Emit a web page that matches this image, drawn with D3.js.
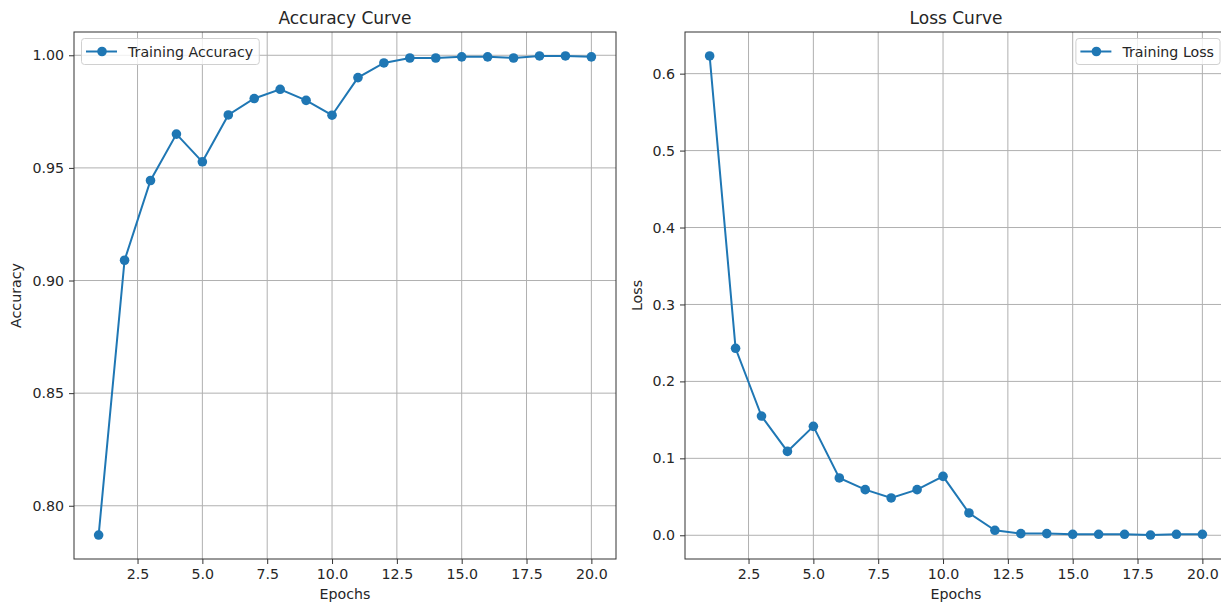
<!DOCTYPE html>
<html>
<head>
<meta charset="utf-8">
<script src="https://cdn.jsdelivr.net/npm/d3@7"></script>
<style>
  body { margin: 0; background: #fff; }
  svg text { font-family: "DejaVu Sans", sans-serif; fill: #262626; }
</style>
</head>
<body>
<div id="chart"></div>
<script>
// Training history
const epochs = d3.range(1, 21)
const accuracy = [0.787, 0.909, 0.9444, 0.965, 0.9527, 0.9735, 0.9808, 0.9849, 0.980, 0.9734,
  0.9901, 0.9966, 0.9988, 0.9988, 0.9993, 0.9993, 0.9988, 0.9997, 0.9997, 0.9993]
const loss = [0.623, 0.243, 0.155, 0.109, 0.1416, 0.0745, 0.0593, 0.0485, 0.0593, 0.0766,
  0.029, 0.0065, 0.0022, 0.0022, 0.0013, 0.0013, 0.0013, 0.0003, 0.0013, 0.0013]

const xTicks = [2.5, 5.0, 7.5, 10.0, 12.5, 15.0, 17.5, 20.0]
const accTicks = [0.80, 0.85, 0.90, 0.95, 1.00]
const lossTicks = [0.0, 0.1, 0.2, 0.3, 0.4, 0.5, 0.6]

const width = 1221
const height = 603
const blue = '#1f77b4'
const fs = 14.2

const svg = d3.select('#chart')
  .append('svg')
  .attr('width', width)
  .attr('height', height)

// matplotlib style 5% margins around the data
const padded = (vals) => {
  const [lo, hi] = d3.extent(vals)
  const m = (hi - lo) * 0.05
  return [lo - m, hi + m]
}

const panel = (opts) => {
  const { left, right, top, bottom } = opts
  const g = svg.append('g')

  const x = d3.scaleLinear().domain(padded(epochs)).range([left, right])
  const y = d3.scaleLinear().domain(padded(opts.values)).range([bottom, top])

  // grid
  g.append('g')
    .selectAll('line.vx')
    .data(xTicks)
    .enter().append('line')
    .attr('x1', (d) => x(d)).attr('x2', (d) => x(d))
    .attr('y1', top).attr('y2', bottom)
    .attr('stroke', '#b0b0b0').attr('stroke-width', 1)
  g.append('g')
    .selectAll('line.hy')
    .data(opts.ticks)
    .enter().append('line')
    .attr('x1', left).attr('x2', right)
    .attr('y1', (d) => y(d)).attr('y2', (d) => y(d))
    .attr('stroke', '#b0b0b0').attr('stroke-width', 1)

  // axes
  const xAxis = g.append('g')
    .attr('transform', `translate(0,${bottom})`)
    .call(d3.axisBottom(x).tickValues(xTicks).tickFormat(d3.format('.1f')).tickSize(5).tickPadding(5))
  const yAxis = g.append('g')
    .attr('transform', `translate(${left},0)`)
    .call(d3.axisLeft(y).tickValues(opts.ticks).tickFormat(d3.format(opts.fmt)).tickSize(5).tickPadding(5))
  ;[xAxis, yAxis].forEach((a) => {
    a.select('.domain').remove()
    a.selectAll('.tick line').attr('stroke', '#333')
    a.selectAll('.tick text').attr('font-size', fs).attr('fill', '#262626')
      .style('font-family', '"DejaVu Sans", sans-serif')
  })

  // spines
  g.append('rect')
    .attr('x', left).attr('y', top)
    .attr('width', right - left).attr('height', bottom - top)
    .attr('fill', 'none').attr('stroke', '#333').attr('stroke-width', 1)

  // series
  const line = d3.line().x((d, i) => x(epochs[i])).y((d) => y(d))
  g.append('path')
    .datum(opts.values)
    .attr('d', line)
    .attr('fill', 'none')
    .attr('stroke', blue)
    .attr('stroke-width', 2)
  g.append('g')
    .selectAll('circle')
    .data(opts.values)
    .enter().append('circle')
    .attr('cx', (d, i) => x(epochs[i]))
    .attr('cy', (d) => y(d))
    .attr('r', 4.8)
    .attr('fill', blue)

  // title and labels
  g.append('text')
    .text(opts.title)
    .attr('x', (left + right) / 2)
    .attr('y', top - 8.5)
    .attr('text-anchor', 'middle')
    .attr('font-size', 17)
  g.append('text')
    .text('Epochs')
    .attr('x', (left + right) / 2)
    .attr('y', 599)
    .attr('text-anchor', 'middle')
    .attr('font-size', fs)
  g.append('text')
    .text(opts.ylabel)
    .attr('transform', `translate(${opts.ylabelX},${(top + bottom) / 2}) rotate(-90)`)
    .attr('text-anchor', 'middle')
    .attr('font-size', fs)

  // legend
  const lg = g.append('g')
  const box = lg.append('rect')
  const label = lg.append('text')
    .text(opts.legend)
    .attr('font-size', fs)
  const textLen = label.node().getComputedTextLength()
  const boxW = 4.5 + 31 + 11 + textLen + 6
  const boxX = opts.legendRight ? right - 7 - boxW : left + 7.5
  const boxY = top + 6.5
  box.attr('x', boxX).attr('y', boxY)
    .attr('width', boxW).attr('height', 26)
    .attr('rx', 3)
    .attr('fill', 'rgba(255,255,255,0.8)')
    .attr('stroke', '#d0d0d0')
  lg.append('line')
    .attr('x1', boxX + 4.5).attr('x2', boxX + 35.5)
    .attr('y1', boxY + 13).attr('y2', boxY + 13)
    .attr('stroke', blue).attr('stroke-width', 2)
  lg.append('circle')
    .attr('cx', boxX + 20.5).attr('cy', boxY + 13)
    .attr('r', 4.8).attr('fill', blue)
  label.attr('x', boxX + 46.5).attr('y', boxY + 18)
}

panel({
  left: 74, right: 616, top: 32, bottom: 559,
  values: accuracy, ticks: accTicks, fmt: '.2f',
  title: 'Accuracy Curve', ylabel: 'Accuracy', ylabelX: 21,
  legend: 'Training Accuracy', legendRight: false
})

panel({
  left: 685, right: 1227, top: 32, bottom: 559,
  values: loss, ticks: lossTicks, fmt: '.1f',
  title: 'Loss Curve', ylabel: 'Loss', ylabelX: 642,
  legend: 'Training Loss', legendRight: true
})
</script>
</body>
</html>
